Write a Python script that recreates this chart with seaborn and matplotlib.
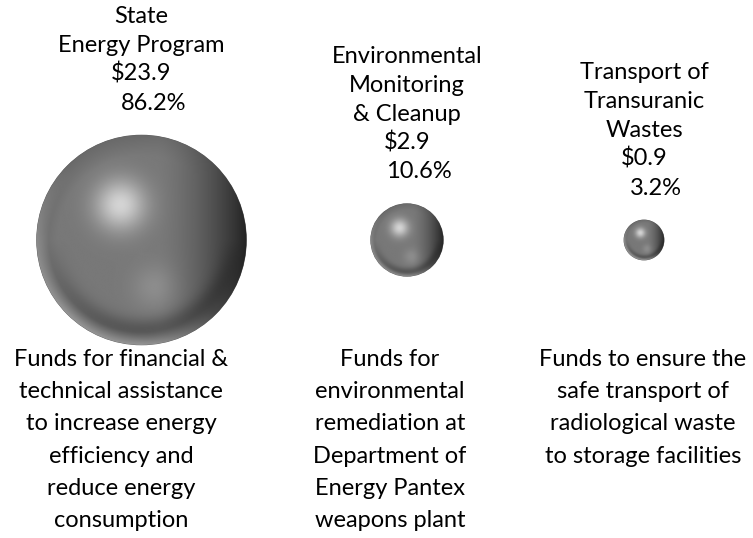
import matplotlib
matplotlib.use("Agg")
import matplotlib.pyplot as plt
from matplotlib.patches import Circle
import numpy as np
import pandas as pd
import seaborn as sns

PROGRAMS = [
    "State\nEnergy Program",
    "Environmental\nMonitoring\n& Cleanup",
    "Transport of\nTransuranic\nWastes",
]
AMOUNTS = [23.9, 2.9, 0.9]  # $ millions
SHARES = [86.2, 10.6, 3.2]  # percent of total
DESCRIPTIONS = [
    "Funds for financial &\ntechnical assistance\nto increase energy\nefficiency and\nreduce energy\nconsumption",
    "Funds for\nenvironmental\nremediation at\nDepartment of\nEnergy Pantex\nweapons plant",
    "Funds to ensure the\nsafe transport of\nradiological waste\nto storage facilities",
]

# layout (pixel coordinates of the 753x538 canvas)
W, H, DPI = 753, 538, 100
SPHERE_X = [141.5, 407, 644]
SPHERE_Y = 240
DESC_X = [121, 390, 643]
RADIUS_SCALE = 21.53  # px per sqrt($M), area proportional to amount
FONT = "Lato"
FS = 17


def sphere_shading(n=400):
    u, v = np.meshgrid(np.linspace(-1, 1, n), np.linspace(-1, 1, n))
    r = np.sqrt(u**2 + v**2)
    img = np.full_like(u, 0.47)
    # soft highlight, upper left
    img += 0.36 * np.exp(-((u + 0.2) ** 2 + (v + 0.33) ** 2) / (2 * 0.17**2))
    # faint reflection, lower middle
    img += 0.08 * np.exp(-((u - 0.12) ** 2 + (v - 0.45) ** 2) / (2 * 0.15**2))
    # shadow toward the right side
    img -= 0.33 * np.clip((u - 0.15) / 0.85, 0, 1) ** 1.6
    # dark band near the bottom
    img -= 0.15 * np.exp(-((r - 0.85) ** 2) / (2 * 0.08**2)) * np.clip(v, 0, 1)
    # bounce light on the lower-left rim
    img += 0.14 * np.clip((r - 0.88) / 0.12, 0, 1) * np.clip(v - u, 0, 1)
    # slightly darker top/left rim
    img -= 0.06 * np.clip((r - 0.8) / 0.2, 0, 1) * np.clip(-v - u, 0, 1)
    return np.clip(img, 0, 1)


def main():
    sns.set_style("white")
    plt.rcParams["font.family"] = [FONT, "DejaVu Sans"]

    radii = [RADIUS_SCALE * np.sqrt(a) for a in AMOUNTS]
    df = pd.DataFrame({
        "program": PROGRAMS,
        "amount": AMOUNTS,
        "x": SPHERE_X,
        "y": [SPHERE_Y] * len(PROGRAMS),
    })
    # marker area in pt^2 for a disc of radius r px
    marker_sizes = {p: (2 * r * 72 / DPI) ** 2 for p, r in zip(PROGRAMS, radii)}

    fig = plt.figure(figsize=(W / DPI, H / DPI), dpi=DPI)
    ax = fig.add_axes([0, 0, 1, 1])

    sns.scatterplot(
        data=df, x="x", y="y", size="program", sizes=marker_sizes,
        color="#5a5a5a", edgecolor="none", legend=False, ax=ax, zorder=1,
    )

    shade = sphere_shading()
    for cx, r in zip(SPHERE_X, radii):
        im = ax.imshow(
            shade, cmap="gray", vmin=0, vmax=1, interpolation="bilinear",
            extent=(cx - r, cx + r, SPHERE_Y + r, SPHERE_Y - r), zorder=2,
        )
        clip = Circle((cx, SPHERE_Y), r - 0.3, transform=ax.transData)
        im.set_clip_path(clip)

    top_step = 28.8
    for cx, r, name, amt, share in zip(SPHERE_X, radii, PROGRAMS, AMOUNTS, SHARES):
        base = SPHERE_Y - r - 25
        ax.text(cx + 12, base, f"{share:.1f}%", ha="center", va="baseline",
                fontsize=FS, color="black")
        lines = name.split("\n") + [f"${amt:.1f}"]
        for k, line in enumerate(reversed(lines), start=1):
            ax.text(cx, base - k * top_step, line, ha="center", va="baseline",
                    fontsize=FS, color="black")

    for cx, desc in zip(DESC_X, DESCRIPTIONS):
        for k, line in enumerate(desc.split("\n")):
            ax.text(cx, 366 + k * 32.2, line, ha="center", va="baseline",
                    fontsize=FS, color="black")

    ax.set_xlim(0, W)
    ax.set_ylim(H, 0)
    ax.set_aspect("auto")
    ax.axis("off")

    fig.savefig("out.png", dpi=DPI)


if __name__ == "__main__":
    main()
